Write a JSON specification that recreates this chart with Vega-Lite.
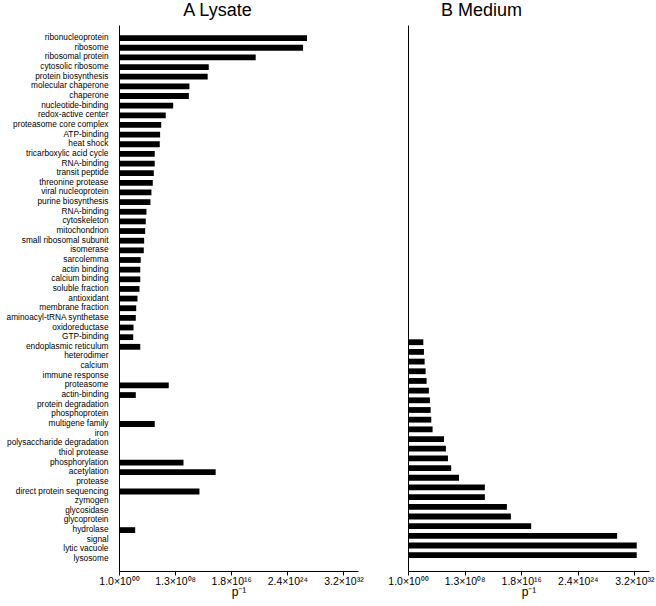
{
  "$schema": "https://vega.github.io/schema/vega-lite/v6.json",
  "background": "white",
  "padding": {"left": 5, "top": 2, "right": 5, "bottom": 3},
  "bounds": "flush",
  "config": {
    "font": "Liberation Sans",
    "view": {"stroke": null},
    "axis": {"domainColor": "#000", "tickColor": "#000", "labelColor": "#000", "titleColor": "#000", "grid": false},
    "title": {"font": "Liberation Sans", "fontSize": 18, "fontWeight": "normal", "color": "#000"}
  },
  "datasets": {
    "lysate": [
      {"term": "ribonucleoprotein", "p_inv": 1.7e27},
      {"term": "ribosome", "p_inv": 4.6e26},
      {"term": "ribosomal protein", "p_inv": 6.3e19},
      {"term": "cytosolic ribosome", "p_inv": 1.0e13},
      {"term": "protein biosynthesis", "p_inv": 7e12},
      {"term": "molecular chaperone", "p_inv": 1.6e10},
      {"term": "chaperone", "p_inv": 1.3e10},
      {"term": "nucleotide-binding", "p_inv": 7e7},
      {"term": "redox-active center", "p_inv": 5.9e6},
      {"term": "proteasome core complex", "p_inv": 1.3e6},
      {"term": "ATP-binding", "p_inv": 9e5},
      {"term": "heat shock", "p_inv": 8e5},
      {"term": "tricarboxylic acid cycle", "p_inv": 1.5e5},
      {"term": "RNA-binding", "p_inv": 1.5e5},
      {"term": "transit peptide", "p_inv": 1.1e5},
      {"term": "threonine protease", "p_inv": 7.8e4},
      {"term": "viral nucleoprotein", "p_inv": 5e4},
      {"term": "purine biosynthesis", "p_inv": 3.6e4},
      {"term": "RNA-binding ", "p_inv": 9.5e3},
      {"term": "cytoskeleton", "p_inv": 7.6e3},
      {"term": "mitochondrion", "p_inv": 6.2e3},
      {"term": "small ribosomal subunit", "p_inv": 4.4e3},
      {"term": "isomerase", "p_inv": 3.9e3},
      {"term": "sarcolemma", "p_inv": 1.4e3},
      {"term": "actin binding", "p_inv": 1.2e3},
      {"term": "calcium binding", "p_inv": 1.2e3},
      {"term": "soluble fraction", "p_inv": 930},
      {"term": "antioxidant", "p_inv": 475},
      {"term": "membrane fraction", "p_inv": 310},
      {"term": "aminoacyl-tRNA synthetase", "p_inv": 270},
      {"term": "oxidoreductase", "p_inv": 126},
      {"term": "GTP-binding", "p_inv": 114},
      {"term": "endoplasmic reticulum", "p_inv": 1200},
      {"term": "proteasome", "p_inv": 1.6e7},
      {"term": "actin-binding", "p_inv": 270},
      {"term": "multigene family", "p_inv": 1.5e5},
      {"term": "phosphorylation", "p_inv": 2.2e9},
      {"term": "acetylation", "p_inv": 1e14},
      {"term": "direct protein sequencing", "p_inv": 4.5e11},
      {"term": "hydrolase", "p_inv": 220}
    ],
    "medium": [
      {"term": "endoplasmic reticulum", "p_inv": 158},
      {"term": "heterodimer", "p_inv": 195},
      {"term": "calcium", "p_inv": 245},
      {"term": "immune response", "p_inv": 340},
      {"term": "proteasome", "p_inv": 470},
      {"term": "actin-binding", "p_inv": 1000},
      {"term": "protein degradation", "p_inv": 1400},
      {"term": "phosphoprotein", "p_inv": 1800},
      {"term": "multigene family", "p_inv": 2200},
      {"term": "iron", "p_inv": 3400},
      {"term": "polysaccharide degradation", "p_inv": 1.5e5},
      {"term": "thiol protease", "p_inv": 2.8e5},
      {"term": "phosphorylation", "p_inv": 5.5e5},
      {"term": "acetylation", "p_inv": 1.6e6},
      {"term": "protease", "p_inv": 2.1e7},
      {"term": "direct protein sequencing", "p_inv": 1.1e11},
      {"term": "zymogen", "p_inv": 1.1e11},
      {"term": "glycosidase", "p_inv": 1.6e14},
      {"term": "glycoprotein", "p_inv": 6e14},
      {"term": "hydrolase", "p_inv": 4.9e17},
      {"term": "signal", "p_inv": 1.1e30},
      {"term": "lytic vacuole", "p_inv": 7.2e32},
      {"term": "lysosome", "p_inv": 7.2e32}
    ]
  },
  "spacing": 50,
  "hconcat": [
    {
      "width": 239,
      "height": 546,
      "title": {"text": "A  Lysate", "offset": 5, "dx": -21},
      "data": {"name": "lysate"},
      "mark": {"type": "bar", "color": "#000"},
      "encoding": {
        "y": {
          "field": "term", "type": "nominal",
          "scale": {
            "domain": ["ribonucleoprotein", "ribosome", "ribosomal protein", "cytosolic ribosome", "protein biosynthesis", "molecular chaperone", "chaperone", "nucleotide-binding", "redox-active center", "proteasome core complex", "ATP-binding", "heat shock", "tricarboxylic acid cycle", "RNA-binding", "transit peptide", "threonine protease", "viral nucleoprotein", "purine biosynthesis", "RNA-binding ", "cytoskeleton", "mitochondrion", "small ribosomal subunit", "isomerase", "sarcolemma", "actin binding", "calcium binding", "soluble fraction", "antioxidant", "membrane fraction", "aminoacyl-tRNA synthetase", "oxidoreductase", "GTP-binding", "endoplasmic reticulum", "heterodimer", "calcium", "immune response", "proteasome", "actin-binding", "protein degradation", "phosphoprotein", "multigene family", "iron", "polysaccharide degradation", "thiol protease", "phosphorylation", "acetylation", "protease", "direct protein sequencing", "zymogen", "glycosidase", "glycoprotein", "hydrolase", "signal", "lytic vacuole", "lysosome"],
            "paddingInner": 0.4, "paddingOuter": 1.29, "align": 0.53
          },
          "axis": {"title": null, "ticks": false, "labelFontSize": 8.3, "labelPadding": 11}
        },
        "x": {
          "field": "p_inv", "type": "quantitative",
          "scale": {"type": "log", "base": 2, "domain": [1, 4.15e34], "nice": false},
          "axis": {
            "values": [1, 134217728, 18014398509481984, 2.4178516392292583e24, 3.2451855365842673e32],
            "labelExpr": "datum.value < 2 ? '1.0×10⁰⁰' : datum.value < 1e9 ? '1.3×10⁰⁸' : datum.value < 1e17 ? '1.8×10¹⁶' : datum.value < 1e25 ? '2.4×10²⁴' : '3.2×10³²'",
            "labelOverlap": false,
            "labelFlush": false,
            "labelFontSize": 10.5,
            "labelPadding": 1,
            "title": "p⁻¹", "titleFontSize": 12, "titleFontWeight": "normal", "titlePadding": 0,
            "tickSize": 4
          }
        },
        "x2": {"datum": 1}
      }
    },
    {
      "width": 241,
      "height": 546,
      "title": {"text": "B  Medium", "offset": 5, "dx": -47},
      "data": {"name": "medium"},
      "mark": {"type": "bar", "color": "#000"},
      "encoding": {
        "y": {
          "field": "term", "type": "nominal",
          "scale": {
            "domain": ["ribonucleoprotein", "ribosome", "ribosomal protein", "cytosolic ribosome", "protein biosynthesis", "molecular chaperone", "chaperone", "nucleotide-binding", "redox-active center", "proteasome core complex", "ATP-binding", "heat shock", "tricarboxylic acid cycle", "RNA-binding", "transit peptide", "threonine protease", "viral nucleoprotein", "purine biosynthesis", "RNA-binding ", "cytoskeleton", "mitochondrion", "small ribosomal subunit", "isomerase", "sarcolemma", "actin binding", "calcium binding", "soluble fraction", "antioxidant", "membrane fraction", "aminoacyl-tRNA synthetase", "oxidoreductase", "GTP-binding", "endoplasmic reticulum", "heterodimer", "calcium", "immune response", "proteasome", "actin-binding", "protein degradation", "phosphoprotein", "multigene family", "iron", "polysaccharide degradation", "thiol protease", "phosphorylation", "acetylation", "protease", "direct protein sequencing", "zymogen", "glycosidase", "glycoprotein", "hydrolase", "signal", "lytic vacuole", "lysosome"],
            "paddingInner": 0.4, "paddingOuter": 0.9, "align": 0.26
          },
          "axis": {"title": null, "ticks": false, "labels": false}
        },
        "x": {
          "field": "p_inv", "type": "quantitative",
          "scale": {"type": "log", "base": 2, "domain": [1, 4.15e34], "nice": false},
          "axis": {
            "values": [1, 134217728, 18014398509481984, 2.4178516392292583e24, 3.2451855365842673e32],
            "labelExpr": "datum.value < 2 ? '1.0×10⁰⁰' : datum.value < 1e9 ? '1.3×10⁰⁸' : datum.value < 1e17 ? '1.8×10¹⁶' : datum.value < 1e25 ? '2.4×10²⁴' : '3.2×10³²'",
            "labelOverlap": false,
            "labelFlush": false,
            "labelFontSize": 10.5,
            "labelPadding": 1,
            "title": "p⁻¹", "titleFontSize": 12, "titleFontWeight": "normal", "titlePadding": 0,
            "tickSize": 4
          }
        },
        "x2": {"datum": 1}
      }
    }
  ]
}
